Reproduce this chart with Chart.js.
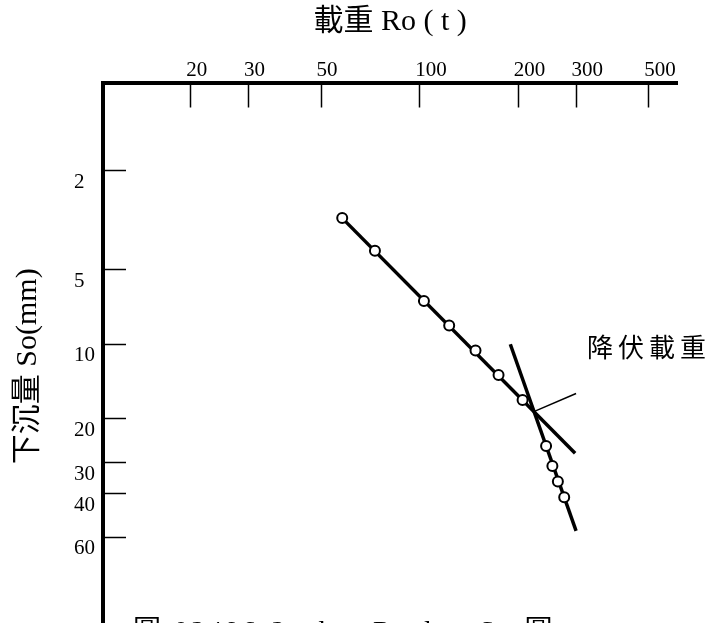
<!DOCTYPE html>
<html>
<head>
<meta charset="utf-8">
<script src="https://cdn.jsdelivr.net/npm/chart.js@4.4.1/dist/chart.umd.min.js"></script>
<style>
html, body { margin: 0; padding: 0; background: #fff; overflow: hidden; }
#wrap { position: relative; width: 715px; height: 623px; overflow: hidden; background: #fff; }
canvas { display: block; }
.note { position: absolute; color: #000; white-space: pre; line-height: 1; }
</style>
</head>
<body>
<div id="wrap">
  <canvas id="c" width="715" height="650"></canvas>
  <div class="note" id="yieldLabel" style="left:587px; top:333px; font-size:26px; letter-spacing:5px; font-family:'Noto Sans CJK TC';">降伏載重</div>
  <div class="note" id="caption" style="left:133px; top:617px; font-size:28px; letter-spacing:3px; font-family:'Liberation Serif','Noto Sans CJK TC';">圖 02496-2   log Ro-log So 圖</div>
</div>
<script>
// ---- data ----
const loadTicks   = [20, 30, 50, 100, 200, 300, 500];          // 載重 Ro (t)
const settleTicks = [2, 5, 10, 20, 30, 40, 60];                 // 下沉量 So (mm)

const loadRo   = [58, 73, 103, 123, 148, 174, 206, 243, 254, 264, 276];
const settleSo = [3.1, 4.2, 6.7, 8.4, 10.6, 13.3, 16.8, 25.7, 31, 35.8, 41.4];

// first straight line (through the early points)
const lineAX = [58, 298];
const lineAY = [3.1, 27.5];
// second straight line (through the late points)
const lineBX = [189, 300];
const lineBY = [10, 56.6];
// leader line from the intersection (yield load) to the label
const leaderX = [223, 300];
const leaderY = [18.7, 15.8];

const toPts = (xs, ys) => xs.map((x, i) => ({ x: x, y: ys[i] }));

const tickFont  = { family: "'Liberation Serif', 'Times New Roman', serif", size: 21 };
const titleFont = { family: "'Liberation Serif', 'Noto Sans CJK TC', serif", size: 30 };

new Chart(document.getElementById('c'), {
  type: 'scatter',
  data: {
    datasets: [
      {
        label: '實測值',
        data: toPts(loadRo, settleSo),
        showLine: false,
        pointRadius: 5,
        pointHoverRadius: 5,
        pointBorderWidth: 2,
        pointBackgroundColor: '#ffffff',
        pointBorderColor: '#000000'
      },
      {
        label: 'A',
        data: toPts(lineAX, lineAY),
        showLine: true,
        borderColor: '#000000',
        borderWidth: 3.5,
        pointRadius: 0
      },
      {
        label: 'B',
        data: toPts(lineBX, lineBY),
        showLine: true,
        borderColor: '#000000',
        borderWidth: 3.5,
        pointRadius: 0
      },
      {
        label: 'leader',
        data: toPts(leaderX, leaderY),
        showLine: true,
        borderColor: '#000000',
        borderWidth: 1.5,
        pointRadius: 0
      }
    ]
  },
  options: {
    responsive: false,
    animation: false,
    devicePixelRatio: 1,
    layout: { autoPadding: false, padding: { left: 74, right: 37.7, top: 0, bottom: 0 } },
    plugins: { legend: { display: false }, tooltip: { enabled: false } },
    scales: {
      x: {
        type: 'logarithmic',
        position: 'top',
        min: 10.8,
        max: 611,
        bounds: 'data',
        border: { display: true, color: '#000', width: 4 },
        grid: { drawOnChartArea: false, drawTicks: true, tickLength: -25, tickColor: '#000', tickWidth: 1.5 },
        ticks: {
          autoSkip: false, maxRotation: 0, minRotation: 0,
          align: 'start', labelOffset: -4.5, padding: 24,
          color: '#000', font: tickFont,
          callback: (v) => String(v)
        },
        afterBuildTicks: (s) => { s.ticks = loadTicks.map(v => ({ value: v })); },
        afterFit: (s) => { s.height = 82.5; s.paddingLeft = 0; s.paddingRight = 0; s.paddingTop = 0; s.paddingBottom = 0; },
        title: { display: true, text: '載重 Ro ( t )', color: '#000', font: titleFont, padding: { top: 4, bottom: 0 } }
      },
      y: {
        type: 'logarithmic',
        position: 'left',
        reverse: true,
        min: 0.88,
        max: 171,
        bounds: 'data',
        border: { display: true, color: '#000', width: 4 },
        grid: { drawOnChartArea: false, drawTicks: true, tickLength: -23, tickColor: '#000', tickWidth: 1.5 },
        ticks: {
          autoSkip: false, crossAlign: 'far', padding: 0, labelOffset: 11.5,
          color: '#000', font: tickFont,
          callback: (v) => String(v)
        },
        afterBuildTicks: (s) => { s.ticks = settleTicks.map(v => ({ value: v })); },
        afterFit: (s) => { s.width = 29; s.paddingLeft = 0; s.paddingRight = 0; s.paddingTop = 0; s.paddingBottom = 0; },
        title: { display: true, text: '下沉量 So(mm)', color: '#000', font: titleFont, padding: { top: -64, bottom: 0 } }
      }
    }
  }
});
</script>
</body>
</html>
